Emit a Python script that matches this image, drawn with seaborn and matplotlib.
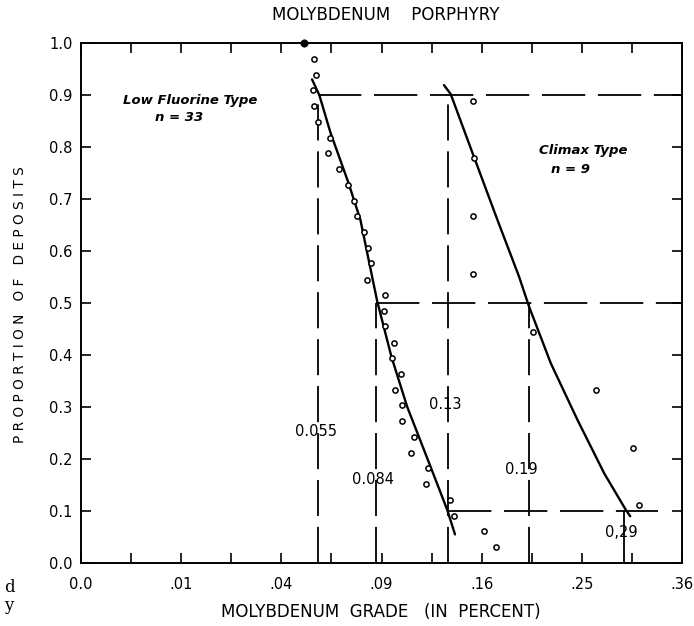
import numpy as np
import pandas as pd
import matplotlib
matplotlib.use("Agg")
import matplotlib.pyplot as plt
import seaborn as sns
from matplotlib.ticker import FixedLocator, FixedFormatter

# ---------------- data ----------------
# Low Fluorine type deposits (n = 33): grade (%) and proportion of deposits
lowf_grade = [0.0497, 0.0540, 0.0551, 0.0537, 0.0543, 0.0560, 0.0620, 0.0609,
              0.0664, 0.0711, 0.0744, 0.0758, 0.0801, 0.0820, 0.0839, 0.0816,
              0.0920, 0.0918, 0.0924, 0.0975, 0.0961, 0.1022, 0.0984, 0.1030,
              0.1024, 0.1102, 0.1087, 0.1202, 0.1185, 0.1354, 0.1386, 0.1618,
              0.1717]
lowf_prop = [1.000, 0.970, 0.939, 0.909, 0.879, 0.848, 0.818, 0.788,
             0.758, 0.727, 0.697, 0.667, 0.636, 0.606, 0.576, 0.545,
             0.515, 0.485, 0.455, 0.424, 0.394, 0.364, 0.333, 0.303,
             0.273, 0.242, 0.212, 0.182, 0.152, 0.121, 0.091, 0.061,
             0.030]

# Climax type deposits (n = 9)
climax_grade = [0.1534, 0.1540, 0.1534, 0.1534, 0.2037, 0.2639, 0.3040, 0.3099]
climax_prop = [0.889, 0.778, 0.667, 0.556, 0.444, 0.333, 0.222, 0.111]

# fitted curves
lowf_fit_grade = [0.0532, 0.0566, 0.0620, 0.0711, 0.0778, 0.0874, 0.0961,
                  0.1061, 0.1218, 0.1337, 0.1394]
lowf_fit_prop = [0.930, 0.900, 0.828, 0.733, 0.660, 0.504, 0.396,
                 0.300, 0.185, 0.102, 0.055]

climax_fit_grade = [0.1313, 0.1362, 0.1539, 0.1728, 0.1912, 0.2001, 0.2200,
                    0.2457, 0.2728, 0.2959, 0.3006]
climax_fit_prop = [0.919, 0.902, 0.781, 0.660, 0.551, 0.493, 0.384,
                   0.275, 0.1725, 0.102, 0.090]

# quantile guide lines (90 %, 50 %, 10 %)
lowf_q_grade = [0.056, 0.087, 0.134]
climax_q_grade = [0.134, 0.200, 0.294]
q_prop = [0.9, 0.5, 0.1]
lowf_q_labels = ["0.055", "0.084", "0.13"]
climax_q_labels = ["0.13", "0.19", "0,29"]

x_ticks = [0.0, 0.01, 0.04, 0.09, 0.16, 0.25, 0.36]
x_tick_labels = ["0.0", ".01", ".04", ".09", ".16", ".25", ".36"]
y_ticks = [0.0, 0.1, 0.2, 0.3, 0.4, 0.5, 0.6, 0.7, 0.8, 0.9, 1.0]
y_tick_labels = ["0.0", "0.1", "0.2", "0.3", "0.4", "0.5", "0.6", "0.7", "0.8", "0.9", "1.0"]

# ---------------- figure ----------------
sns.set_theme(style="ticks")
plt.rcParams["font.family"] = ["DejaVu Sans"]
plt.rcParams["text.color"] = "black"
plt.rcParams["axes.labelcolor"] = "black"

W, H = 694, 626
fig = plt.figure(figsize=(W / 100, H / 100), dpi=100)
fig.patch.set_facecolor("white")
ax = fig.add_axes([81 / W, 63 / H, 601 / W, 520 / H])
ax.set_facecolor("white")

ax.set_xscale("function",
              functions=(lambda v: np.sqrt(np.clip(v, 0, None)),
                         lambda v: np.square(v)))
ax.set_xlim(0, 0.36)
ax.set_ylim(0, 1.0)

lw_dash = 1.3
hdash = (24, 7)
vdash = (20, 6)
# guide lines
ax.plot([lowf_q_grade[0], 0.36], [q_prop[0], q_prop[0]], color="black", lw=lw_dash, dashes=hdash)
ax.plot([lowf_q_grade[1], 0.36], [q_prop[1], q_prop[1]], color="black", lw=lw_dash, dashes=hdash)
ax.plot([lowf_q_grade[2], 0.3318], [q_prop[2], q_prop[2]], color="black", lw=lw_dash, dashes=hdash)
ax.plot([lowf_q_grade[0], lowf_q_grade[0]], [0, q_prop[0]], color="black", lw=lw_dash, dashes=vdash)
ax.plot([lowf_q_grade[1], lowf_q_grade[1]], [0, q_prop[1]], color="black", lw=lw_dash, dashes=vdash)
ax.plot([lowf_q_grade[2], lowf_q_grade[2]], [0, q_prop[0]], color="black", lw=lw_dash, dashes=vdash)
ax.plot([climax_q_grade[1], climax_q_grade[1]], [0, q_prop[1]], color="black", lw=lw_dash, dashes=vdash)
ax.plot([climax_q_grade[2], climax_q_grade[2]], [0, q_prop[2]], color="black", lw=lw_dash)

# fitted curves
sns.lineplot(x=lowf_fit_grade, y=lowf_fit_prop, sort=False, estimator=None,
             color="black", lw=1.7, ax=ax)
sns.lineplot(x=climax_fit_grade, y=climax_fit_prop, sort=False, estimator=None,
             color="black", lw=1.7, ax=ax)

# data points
sns.scatterplot(x=lowf_grade[1:], y=lowf_prop[1:], marker="o", s=14,
                color="white", edgecolor="black", linewidth=1.1, ax=ax, zorder=3)
sns.scatterplot(x=climax_grade, y=climax_prop, marker="o", s=14,
                color="white", edgecolor="black", linewidth=1.1, ax=ax, zorder=3)
sns.scatterplot(x=lowf_grade[:1], y=lowf_prop[:1], marker="o", s=28,
                color="black", edgecolor="black", linewidth=0.5, ax=ax, zorder=4,
                clip_on=False)

# quantile labels
fs = 10.5
ax.text(0.0552, 0.252, lowf_q_labels[0], ha="center", va="center", fontsize=fs)
ax.text(0.0847, 0.160, lowf_q_labels[1], ha="center", va="center", fontsize=fs)
ax.text(0.1325, 0.304, lowf_q_labels[2], ha="center", va="center", fontsize=fs)
ax.text(0.1936, 0.179, climax_q_labels[1], ha="center", va="center", fontsize=fs)
ax.text(0.2905, 0.058, climax_q_labels[2], ha="center", va="center", fontsize=fs)

# group labels
ax.text(0.181, 0.890, "Low Fluorine Type", transform=ax.transAxes, ha="center",
        va="center", fontsize=9.5, style="italic", fontweight="bold")
ax.text(0.163, 0.857, "n = 33", transform=ax.transAxes, ha="center",
        va="center", fontsize=9.5, style="italic", fontweight="bold")
ax.text(0.835, 0.794, "Climax Type", transform=ax.transAxes, ha="center",
        va="center", fontsize=9.5, style="italic", fontweight="bold")
ax.text(0.815, 0.757, "n = 9", transform=ax.transAxes, ha="center",
        va="center", fontsize=9.5, style="italic", fontweight="bold")

# ticks
ax.xaxis.set_major_locator(FixedLocator(x_ticks))
ax.xaxis.set_major_formatter(FixedFormatter(x_tick_labels))
minor_x = [0.0025, 0.0225, 0.0625, 0.1225, 0.2025, 0.3025]
ax.xaxis.set_minor_locator(FixedLocator(minor_x))
ax.yaxis.set_major_locator(FixedLocator(y_ticks))
ax.yaxis.set_major_formatter(FixedFormatter(y_tick_labels))
ax.tick_params(axis="both", which="both", direction="in", length=7, width=1.2,
               top=True, right=True, labelsize=10.5, colors="black",
               labelcolor="black")
ax.tick_params(axis="x", which="major", pad=10)
ax.tick_params(axis="y", which="major", pad=6)
for s in ax.spines.values():
    s.set_linewidth(1.4)
    s.set_color("black")

fig.text(386 / W, 1 - 15 / H, "MOLYBDENUM    PORPHYRY", ha="center", va="center",
         fontsize=12)
fig.text(381 / W, 1 - 612 / H, "MOLYBDENUM  GRADE   (IN  PERCENT)", ha="center",
         va="center", fontsize=12)
fig.text(20 / W, 1 - 305 / H, "P R O P O R T I O N   O F   D E P O S I T S",
         ha="center", va="center", rotation=90, fontsize=9.8)

# scan fragments at left margin
fig.text(4 / W, 1 - 588 / H, "d", fontsize=12, family="DejaVu Serif", va="center")
fig.text(4 / W, 1 - 606 / H, "y", fontsize=12, family="DejaVu Serif", va="center")

fig.savefig("out.png", dpi=100, facecolor="white")
